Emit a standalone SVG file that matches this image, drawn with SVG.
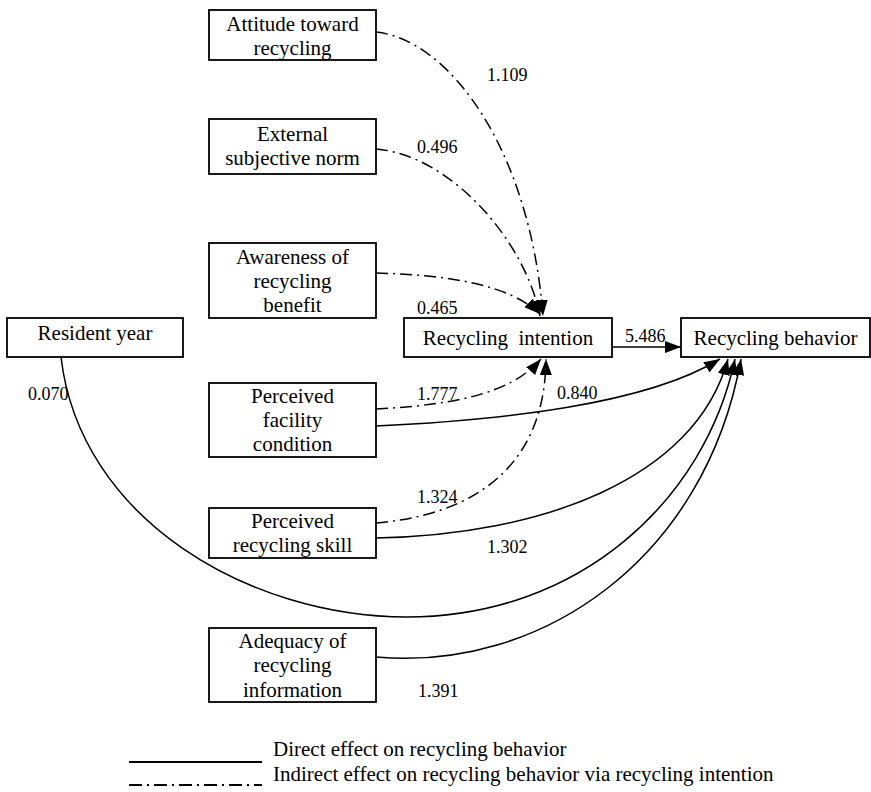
<svg xmlns="http://www.w3.org/2000/svg" width="871" height="792" viewBox="0 0 871 792">
<style>
text{font-family:'Liberation Serif','Tinos','DejaVu Serif','Times New Roman',serif;fill:#000}
.box{fill:#fff;stroke:#000;stroke-width:1.8}
.t{font-size:21px;text-anchor:middle}
.lab{font-size:18px}
.leg{font-size:21px}
.solid{fill:none;stroke:#000;stroke-width:1.5}
.dd{fill:none;stroke:#000;stroke-width:1.5;stroke-dasharray:12 5 2 5}
</style>
<defs>
<marker id="ah" markerUnits="userSpaceOnUse" viewBox="0 0 16 12" markerWidth="16" markerHeight="12" refX="16" refY="6" orient="auto">
<path d="M0,0 L16,6 L0,12 z" fill="#000"/>
</marker>
</defs>
<rect width="871" height="792" fill="#fff"/>
<g id="connectors">
<path class="dd" d="M376,32 C450,40 530,150 543,316" marker-end="url(#ah)"/>
<path class="dd" d="M376,149 C450,155 525,240 540,316" marker-end="url(#ah)"/>
<path class="dd" d="M376,273 C450,275 510,285 540,314" marker-end="url(#ah)"/>
<path class="dd" d="M376,409 C450,405 510,395 541,359" marker-end="url(#ah)"/>
<path class="dd" d="M376,523 C470,515 545,470 546,359" marker-end="url(#ah)"/>
<path class="solid" d="M613,347 L681,347" marker-end="url(#ah)"/>
<path class="solid" d="M376,426 C500,420 645,405 720,359" marker-end="url(#ah)"/>
<path class="solid" d="M376,538 C540,535 695,480 728,359" marker-end="url(#ah)"/>
<path class="solid" d="M61,357 C80,520 250,617 407,617 C580,617 705,500 735,359" marker-end="url(#ah)"/>
<path class="solid" d="M376,657 C540,672 705,560 741,359" marker-end="url(#ah)"/>
</g>
<g id="labels">
<text class="lab" x="487" y="81">1.109</text>
<text class="lab" x="417" y="153">0.496</text>
<text class="lab" x="417" y="314">0.465</text>
<text class="lab" x="625" y="342">5.486</text>
<text class="lab" x="28" y="400">0.070</text>
<text class="lab" x="417" y="400">1.777</text>
<text class="lab" x="557" y="399">0.840</text>
<text class="lab" x="417" y="503">1.324</text>
<text class="lab" x="487" y="553">1.302</text>
<text class="lab" x="418" y="697">1.391</text>
</g>
<g id="attitude">
<rect class="box" x="209" y="10" width="167" height="50"/>
<text class="t" x="292.5" y="31">Attitude toward</text>
<text class="t" x="292.5" y="55">recycling</text>
</g>
<g id="external">
<rect class="box" x="209" y="119" width="167" height="55"/>
<text class="t" x="292.5" y="141">External</text>
<text class="t" x="292.5" y="165">subjective norm</text>
</g>
<g id="awareness">
<rect class="box" x="209" y="243" width="167" height="75"/>
<text class="t" x="292.5" y="264">Awareness of</text>
<text class="t" x="292.5" y="288">recycling</text>
<text class="t" x="292.5" y="312">benefit</text>
</g>
<g id="resident">
<rect class="box" x="7" y="318" width="176" height="39"/>
<text class="t" x="95" y="340">Resident year</text>
</g>
<g id="intention">
<rect class="box" x="404" y="318" width="208" height="39"/>
<text class="t" x="508" y="345" xml:space="preserve">Recycling  intention</text>
</g>
<g id="behavior">
<rect class="box" x="681" y="318" width="189" height="39"/>
<text class="t" x="775.5" y="345">Recycling behavior</text>
</g>
<g id="facility">
<rect class="box" x="209" y="383" width="167" height="74"/>
<text class="t" x="292.5" y="403">Perceived</text>
<text class="t" x="292.5" y="427">facility</text>
<text class="t" x="292.5" y="451">condition</text>
</g>
<g id="skill">
<rect class="box" x="209" y="508" width="167" height="50"/>
<text class="t" x="292.5" y="528">Perceived</text>
<text class="t" x="292.5" y="552">recycling skill</text>
</g>
<g id="adequacy">
<rect class="box" x="209" y="628" width="167" height="74"/>
<text class="t" x="292.5" y="648">Adequacy of</text>
<text class="t" x="292.5" y="672">recycling</text>
<text class="t" x="292.5" y="697">information</text>
</g>
<g id="legend">
<line x1="129" y1="762" x2="262" y2="762" stroke="#000" stroke-width="1.8"/>
<text class="leg" x="273" y="756">Direct effect on recycling behavior</text>
<line x1="129" y1="785" x2="262" y2="785" stroke="#000" stroke-width="1.8" stroke-dasharray="13 5 2 5"/>
<text class="leg" x="273" y="781">Indirect effect on recycling behavior via recycling intention</text>
</g>
</svg>
